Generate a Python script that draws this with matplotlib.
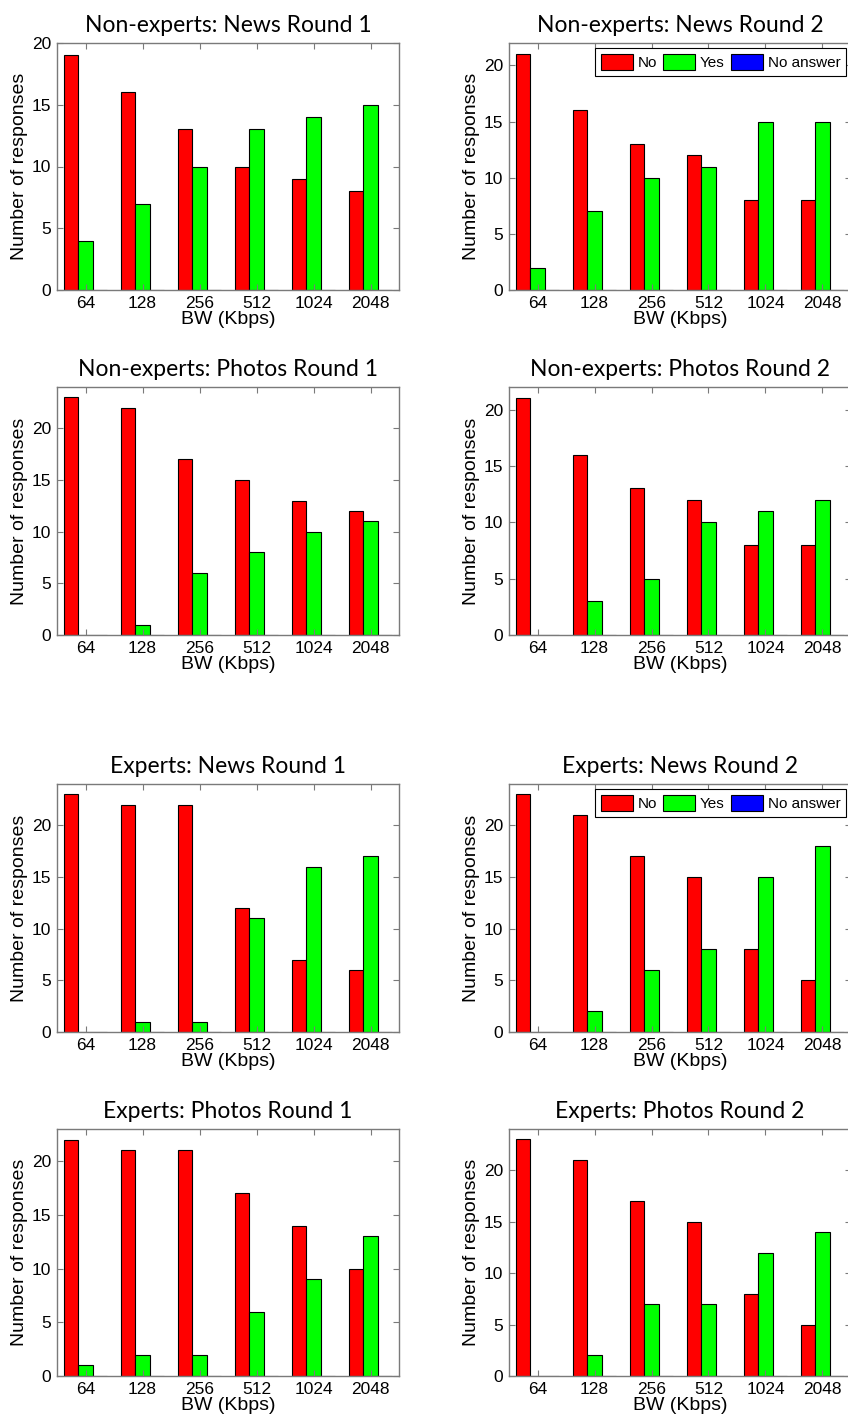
import matplotlib.pyplot as plt
import numpy as np

bw_labels = ["64", "128", "256", "512", "1024", "2048"]
series_names = ["No", "Yes", "No answer"]
series_colors = ["#ff0000", "#00ff00", "#0000ff"]

titles = [
    "Non-experts: News Round 1", "Non-experts: News Round 2",
    "Non-experts: Photos Round 1", "Non-experts: Photos Round 2",
    "Experts: News Round 1", "Experts: News Round 2",
    "Experts: Photos Round 1", "Experts: Photos Round 2",
]

no_counts = [
    [19, 16, 13, 10, 9, 8],
    [21, 16, 13, 12, 8, 8],
    [23, 22, 17, 15, 13, 12],
    [21, 16, 13, 12, 8, 8],
    [23, 22, 22, 12, 7, 6],
    [23, 21, 17, 15, 8, 5],
    [22, 21, 21, 17, 14, 10],
    [23, 21, 17, 15, 8, 5],
]
yes_counts = [
    [4, 7, 10, 13, 14, 15],
    [2, 7, 10, 11, 15, 15],
    [0, 1, 6, 8, 10, 11],
    [0, 3, 5, 10, 11, 12],
    [0, 1, 1, 11, 16, 17],
    [0, 2, 6, 8, 15, 18],
    [1, 2, 2, 6, 9, 13],
    [0, 2, 7, 7, 12, 14],
]
noanswer_counts = [[0, 0, 0, 0, 0, 0] for _ in range(8)]
legend_panels = [1, 5]

W, H = 848, 1421
fig = plt.figure(figsize=(W / 100, H / 100), dpi=100)

# pixel boxes: (left, right) per column, (top, bottom) per row
cols = [(57, 399), (509, 851)]
rows = [(43, 290), (387, 635), (784, 1032), (1129, 1376)]

tick_font = "Liberation Sans"
title_font = "Lato"
gray = "#7a7a7a"

x = np.arange(1, len(bw_labels) + 1)
bw = 0.25

for i, title in enumerate(titles):
    l, r = cols[i % 2]
    t, b = rows[i // 2]
    ax = fig.add_axes([l / W, 1 - b / H, (r - l) / W, (b - t) / H])
    data = [no_counts[i], yes_counts[i], noanswer_counts[i]]
    for k, vals in enumerate(data):
        ax.bar(x + (k - 1) * bw, vals, width=bw, color=series_colors[k],
               edgecolor="black", linewidth=0.8, label=series_names[k])
    ymax = max(max(no_counts[i]), max(yes_counts[i])) + 1
    ax.set_ylim(0, ymax)
    ax.set_xlim(0.5, 6.5)
    ax.set_yticks(np.arange(0, ymax + 0.1, 5))
    ax.set_xticks(x)
    ax.set_xticklabels(bw_labels)
    ax.tick_params(direction="in", top=True, right=True, length=4,
                   color=gray, labelsize=12.5, pad=4)
    for lab in ax.get_xticklabels() + ax.get_yticklabels():
        lab.set_fontfamily(tick_font)
    for sp in ax.spines.values():
        sp.set_color(gray)
        sp.set_linewidth(1)
    ax.set_xlabel("BW (Kbps)", fontsize=14, family=tick_font, labelpad=0)
    ax.set_ylabel("Number of responses", fontsize=14, family=tick_font,
                  labelpad=3)
    ax.set_title(title, fontsize=16.5, family=title_font, pad=8)
    if i in legend_panels:
        leg = ax.legend(loc="upper right", ncol=3,
                        prop={"family": tick_font, "size": 11},
                        handlelength=2.1, handleheight=1.3,
                        handletextpad=0.3, columnspacing=0.4,
                        borderpad=0.4, borderaxespad=0.3,
                        fancybox=False, framealpha=1, edgecolor="black")
        leg.get_frame().set_linewidth(0.8)

fig.savefig("out.png", dpi=100)
